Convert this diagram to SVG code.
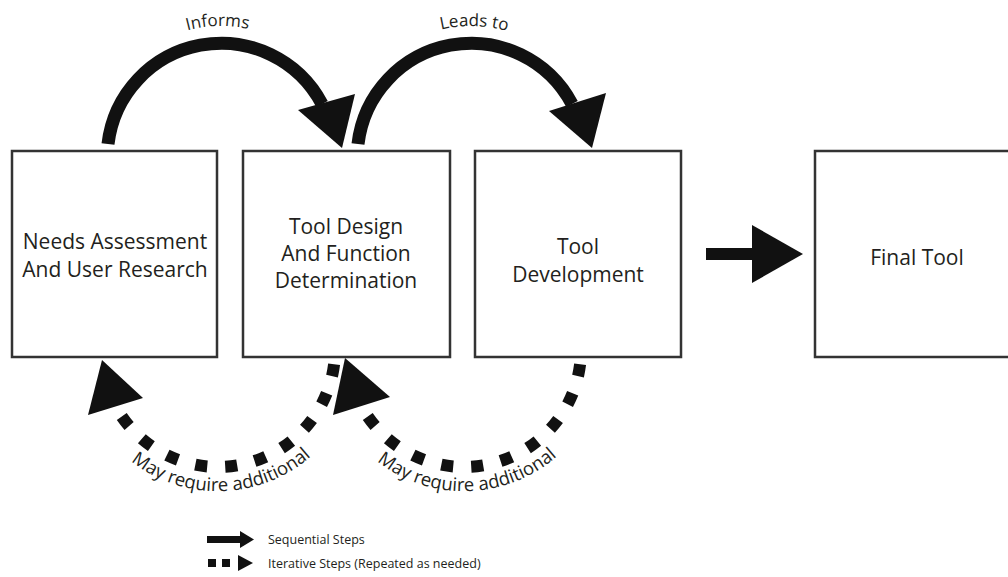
<svg xmlns="http://www.w3.org/2000/svg" width="1008" height="577" viewBox="0 0 1008 577">
<defs>
<style>
.box{fill:#fff;stroke:#333;stroke-width:2.5}
.lbl{font-family:"Open Sans","Noto Sans",sans-serif;font-size:21px;fill:#231f20;text-anchor:middle}
.arc{fill:none;stroke:#111;stroke-width:13}
.dash{fill:none;stroke:#111;stroke-width:12;stroke-dasharray:12 18}
.head{fill:#111}
.clbl{font-family:"Open Sans","Noto Sans",sans-serif;font-size:17px;fill:#231f20}
.blbl{font-family:"Open Sans","Noto Sans",sans-serif;font-size:18.5px;fill:#231f20}
.leg{font-family:"Open Sans","Noto Sans",sans-serif;font-size:12.5px;fill:#231f20}
</style>
<path id="tp1" d="M 97.9 112.2 A 131 131 0 0 1 344.1 112.2"/>
<path id="tp2" d="M 347.9 112.2 A 131 131 0 0 1 594.1 112.2"/>
<path id="bp1" d="M 79.1 374.5 A 141 141 0 0 0 356.9 374.5"/>
<path id="bp2" d="M 325.1 374.5 A 141 141 0 0 0 602.9 374.5"/>
</defs>
<rect width="1008" height="577" fill="#fff"/>

<g id="node-needs">
<rect class="box" x="12" y="151" width="205" height="206"/>
<text class="lbl" x="115" y="249">Needs Assessment</text>
<text class="lbl" x="115" y="277">And User Research</text>
</g>
<g id="node-design">
<rect class="box" x="243" y="151" width="207" height="206"/>
<text class="lbl" x="346" y="234">Tool Design</text>
<text class="lbl" x="346" y="261">And Function</text>
<text class="lbl" x="346" y="288">Determination</text>
</g>
<g id="node-dev">
<rect class="box" x="475" y="151" width="206" height="206"/>
<text class="lbl" x="578" y="254">Tool</text>
<text class="lbl" x="578" y="282">Development</text>
</g>
<g id="node-final">
<rect class="box" x="815" y="151" width="210" height="206"/>
<text class="lbl" x="917" y="265">Final Tool</text>
</g>

<g id="connectors">
<path class="arc" d="M 108 144 A 114 114 0 0 1 322 104"/>
<polygon class="head" points="298,110 355,94 342,148"/>
<text class="clbl"><textPath href="#tp1" startOffset="49%" text-anchor="middle">Informs</textPath></text>

<path class="arc" d="M 358 144 A 114 114 0 0 1 572 104"/>
<polygon class="head" points="549,111 606,93 592,148"/>
<text class="clbl"><textPath href="#tp2" startOffset="51%" text-anchor="middle">Leads to</textPath></text>

<rect class="head" x="706" y="248" width="48" height="12"/>
<polygon class="head" points="752,225 803,254 752,283"/>

<path class="dash" d="M 334.1 364.3 A 117 117 0 0 1 116.7 408.5"/>
<polygon class="head" points="102,360 143,398 88,415"/>
<text class="blbl"><textPath href="#bp1" startOffset="51%" text-anchor="middle">May require additional</textPath></text>

<path class="dash" d="M 580.1 364.3 A 117 117 0 0 1 362.7 408.5"/>
<polygon class="head" points="345,358 390,397 333,415"/>
<text class="blbl"><textPath href="#bp2" startOffset="51%" text-anchor="middle">May require additional</textPath></text>
</g>

<g id="legend">
<rect class="head" x="207" y="536" width="34" height="7"/>
<polygon class="head" points="240,531 254,539.5 240,548"/>
<text class="leg" x="268" y="544">Sequential Steps</text>
<rect class="head" x="208" y="559" width="8" height="8"/>
<rect class="head" x="222" y="559" width="8" height="8"/>
<polygon class="head" points="238,555 253,563 238,571"/>
<text class="leg" x="268" y="568">Iterative Steps (Repeated as needed)</text>
</g>
</svg>
